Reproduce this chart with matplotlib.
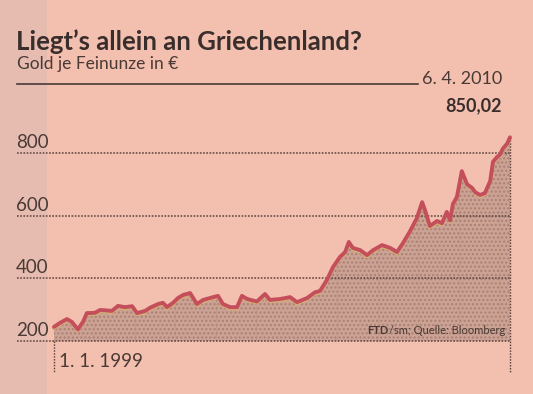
import matplotlib
matplotlib.use("Agg")
import matplotlib.pyplot as plt
import matplotlib.transforms as mtransforms
import numpy as np

# ---- data ----
years = [1999.00, 1999.15, 1999.32, 1999.44, 1999.59, 1999.72, 1999.81, 2000.01, 2000.14, 2000.26,
         2000.43, 2000.58, 2000.75, 2000.93, 2001.05, 2001.25, 2001.37, 2001.57, 2001.69, 2001.79,
         2001.94, 2002.06, 2002.19, 2002.36, 2002.53, 2002.68, 2002.93, 2003.05, 2003.17, 2003.35,
         2003.52, 2003.64, 2003.77, 2004.01, 2004.21, 2004.33, 2004.58, 2004.83, 2005.00, 2005.25,
         2005.44, 2005.57, 2005.74, 2005.89, 2006.06, 2006.19, 2006.28, 2006.38, 2006.56, 2006.73,
         2006.88, 2007.10, 2007.30, 2007.47, 2007.62, 2007.79, 2007.96, 2008.09, 2008.16, 2008.28,
         2008.46, 2008.58, 2008.70, 2008.78, 2008.85, 2008.95, 2009.07, 2009.20, 2009.32, 2009.40,
         2009.52, 2009.64, 2009.77, 2009.84, 2009.94, 2010.01, 2010.09, 2010.19, 2010.26]
gold_eur = [245, 258, 270, 261, 237, 262, 289, 290, 299, 298,
            296, 312, 308, 311, 289, 296, 306, 318, 322, 308,
            322, 337, 347, 353, 318, 331, 340, 344, 318, 308,
            308, 344, 334, 326, 350, 331, 334, 340, 324, 337,
            355, 360, 395, 436, 468, 484, 516, 497, 490, 474,
            490, 506, 497, 484, 513, 550, 592, 643, 618, 567,
            583, 576, 612, 585, 637, 660, 742, 700, 689, 675,
            666, 672, 710, 772, 787, 795, 815, 830, 850.02]
y_ticks = [200, 400, 600, 800]
year_lines = [2000, 2001, 2002, 2003, 2004, 2005, 2006, 2007, 2008, 2009, 2010]

title = "Liegt’s allein an Griechenland?"
subtitle = "Gold je Feinunze in €"
end_date = "6. 4. 2010"
end_value = "850,02"
start_label = "1. 1. 1999"
source_bold = "FTD"
source_rest = "/sm; Quelle: Bloomberg"

# ---- styling ----
W, H = 533, 394
BG = "#f3bfae"
STRIP = "#e6bcb0"
FILL = "#cca294"
LINE = "#c44e5c"
FRINGE = "#d8b070"
INK = "#4a3a36"
GRID = "#5e4440"
FONT = ["Lato", "DejaVu Sans"]

fig = plt.figure(figsize=(W / 100, H / 100), dpi=100)
fig.patch.set_facecolor(BG)
ax = fig.add_axes([0, 0, 1, 1])
ax.set_facecolor("none")
ax.axis("off")

# mapping: 1999.0 -> px 54, 2010.26 -> px 510 ; value 200 -> py 341, 800 -> py 153
px_per_year = (510 - 54) / (2010.26 - 1999.0)
x0 = 1999.0 - 54 / px_per_year
x1 = 1999.0 + (W - 54) / px_per_year
v_per_px = 600 / (341 - 153)
y_top = 200 + 341 * v_per_px
y_bot = 200 - (H - 341) * v_per_px
ax.set_xlim(x0, x1)
ax.set_ylim(y_bot, y_top)

def px2x(px):
    return x0 + px / px_per_year

def py2y(py):
    return y_top - py * v_per_px

# slightly darker left strip of the scan
ax.add_patch(plt.Rectangle((x0, y_bot), px2x(47) - x0, y_top - y_bot,
                           facecolor=STRIP, edgecolor="none", zorder=0))

# fill below line
ax.fill_between(years, gold_eur, 200, facecolor=FILL, edgecolor="none", zorder=2)
ax.fill_between(years, gold_eur, 200, facecolor="none", edgecolor="#a98072",
                hatch="....", linewidth=0, zorder=2.1)

# faint year lines inside fill
for yl in year_lines:
    v = np.interp(yl, years, gold_eur)
    ax.plot([yl, yl], [200, v], color="#b89082", lw=0.6, ls=(0, (1, 1)), zorder=2.2)

# gridlines
for t in y_ticks:
    ax.plot([px2x(17), px2x(510)], [t, t], color=GRID, lw=1.1, ls=(0, (1.1, 1.0)), zorder=3)
    ax.text(px2x(16), t + 5 * v_per_px, str(t), ha="left", va="baseline",
            fontsize=13.5, color=INK, family=FONT, zorder=4)

# vertical dotted lines at start and end
ax.plot([years[0], years[0]], [200, py2y(373)], color=GRID, lw=1.0, ls=(0, (1.1, 1.0)), zorder=3)
ax.plot([years[-1], years[-1]], [gold_eur[-1], py2y(373)], color=GRID, lw=1.0, ls=(0, (1.1, 1.0)), zorder=3)

# line with yellow fringe
off = mtransforms.offset_copy(ax.transData, fig=fig, x=0, y=-1.6, units="dots")
ax.plot(years, gold_eur, color=FRINGE, lw=2.2, transform=off, zorder=4, solid_joinstyle="round")
ax.plot(years, gold_eur, color=LINE, lw=2.8, zorder=5, solid_joinstyle="round", solid_capstyle="round")

# start label
ax.text(px2x(59), py2y(367), start_label, ha="left", va="baseline", fontsize=13.5,
        color=INK, family=FONT)

# source
src = ax.text(px2x(505), py2y(334), source_rest, ha="right", va="baseline", fontsize=8,
              color=INK, family=FONT, zorder=6)
fig.canvas.draw()
bb = src.get_window_extent()
fig.text(bb.x0 / W, (H - 334) / H, source_bold, ha="right",
         va="baseline", fontsize=8, color=INK, family=FONT, weight="bold", zorder=6)

# title block
fig.text(16 / W, 1 - 50 / H, title, ha="left", va="baseline", fontsize=18.5,
         weight="bold", color="#3a2e2c", family=FONT)
fig.text(17 / W, 1 - 69 / H, subtitle, ha="left", va="baseline", fontsize=12.5,
         color=INK, family=FONT)
ax.plot([px2x(17), px2x(418)], [py2y(84), py2y(84)], color=INK, lw=1.2, zorder=3)
fig.text(502 / W, 1 - 84 / H, end_date, ha="right", va="baseline", fontsize=13,
         color=INK, family=FONT)
fig.text(502 / W, 1 - 111 / H, end_value, ha="right", va="baseline", fontsize=13,
         weight="bold", color="#3a2e2c", family=FONT)

fig.savefig("out.png", dpi=100, facecolor=BG)
